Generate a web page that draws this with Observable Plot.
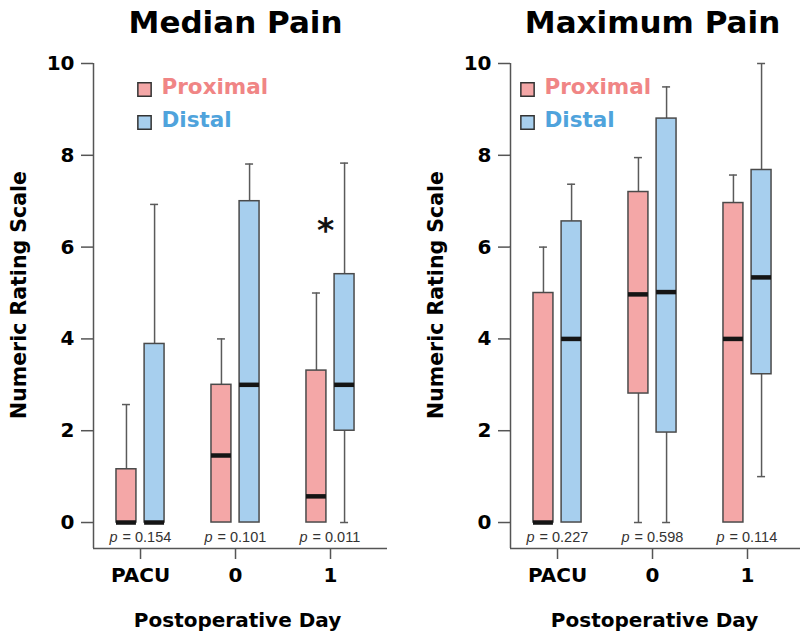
<!DOCTYPE html>
<html>
<head>
<meta charset="utf-8">
<script src="https://cdn.jsdelivr.net/npm/d3@7"></script>
<script src="https://cdn.jsdelivr.net/npm/@observablehq/plot@0.6"></script>
<style>
  html, body { margin: 0; padding: 0; background: #fff; }
  #wrap { position: relative; width: 800px; height: 635px; overflow: hidden; }
  .panel { position: absolute; top: 0; width: 400px; height: 635px; }
  .panel svg { max-width: none !important; }
</style>
</head>
<body>
<div id="wrap">
  <div class="panel" id="left" style="left:0px"></div>
  <div class="panel" id="right" style="left:417px"></div>
</div>
<script>
// ---- data ----
const days = ["PACU", "0", "1"];
const series = ["Proximal", "Distal"];
const yTicks = [0, 2, 4, 6, 8, 10];

// [min, q1, median, q3, max] per postoperative day
const medianProximal = [[0, 0, 0, 1.16, 2.57], [0, 0, 1.46, 3.0, 4.0], [0, 0, 0.57, 3.31, 5.0]];
const medianDistal   = [[0, 0, 0, 3.89, 6.93], [0, 0, 3.0, 7.0, 7.81], [0, 2.0, 3.0, 5.41, 7.83]];
const maxProximal    = [[0, 0, 0, 5.0, 6.0], [0, 2.81, 4.97, 7.2, 7.95], [0, 0, 4.0, 6.96, 7.57]];
const maxDistal      = [[0, 0, 4.0, 6.56, 7.37], [0, 1.96, 5.02, 8.8, 9.49], [1.0, 3.23, 5.34, 7.68, 10.0]];

const pMedian = ["0.154", "0.101", "0.011"];
const pMax    = ["0.227", "0.598", "0.114"];

// significance markers: day index and height
const sigMedian = [{day: 2, y: 6.35, label: "*"}];
const sigMax = [];

// ---- style ----
const boxFill = ["#F4A7A7", "#A7CFEE"];
const legendText = ["#F08585", "#4FA3DC"];
const FONT = "'DejaVu Sans', 'Liberation Sans', sans-serif";
const PFONT = "'Liberation Sans', Arial, sans-serif";
const OFF = 0.148, HW = 0.105, CAP = 0.042;
const xDomain = [-0.495, 2.6];
const yDomain = [-0.566, 10];

function panel(title, prox, dist, pvals, sig, legDx) {
  const rows = [];
  days.forEach((day, i) => {
    [[0, prox[i], -1], [1, dist[i], 1]].forEach(([k, v, side]) => {
      rows.push({i, series: series[k], cx: i + side * OFF,
        min: v[0], q1: v[1], med: v[2], q3: v[3], max: v[4]});
    });
  });
  const pData = days.map((d, i) => ({i, p: pvals[i]}));
  const mid = Math.floor(days.length / 2);
  const marks = [
    Plot.ruleX([xDomain[0]], {stroke: "#555", strokeWidth: 1.5}),
    Plot.ruleY([yDomain[0]], {stroke: "#555", strokeWidth: 1.5}),
    Plot.axisY({ticks: yTicks, tickSize: 12, tickPadding: 7, fontSize: 20, fontWeight: "bold",
      stroke: "#555", strokeWidth: 1.5, fill: "#000", label: null}),
    Plot.axisX({ticks: days.map((d, i) => i), tickFormat: i => days[i], tickSize: 11, tickPadding: 8,
      fontSize: 20, fontWeight: "bold", stroke: "#555", strokeWidth: 1.5, fill: "#000", label: null}),
    // whiskers
    Plot.ruleX(rows, {filter: d => d.max > d.q3, x: "cx", y1: "q3", y2: "max", stroke: "#5a5a5a", strokeWidth: 1.5}),
    Plot.ruleX(rows, {filter: d => d.min < d.q1, x: "cx", y1: "min", y2: "q1", stroke: "#5a5a5a", strokeWidth: 1.5}),
    Plot.ruleY(rows, {filter: d => d.max > d.q3, y: "max", x1: d => d.cx - CAP, x2: d => d.cx + CAP, stroke: "#5a5a5a", strokeWidth: 1.5}),
    Plot.ruleY(rows, {filter: d => d.min < d.q1, y: "min", x1: d => d.cx - CAP, x2: d => d.cx + CAP, stroke: "#5a5a5a", strokeWidth: 1.5}),
    // boxes
    Plot.rect(rows, {x1: d => d.cx - HW, x2: d => d.cx + HW, y1: "q1", y2: "q3", fill: "series",
      stroke: "#4a4a4a", strokeWidth: 1.5}),
    Plot.ruleY(rows, {y: "med", x1: d => d.cx - HW, x2: d => d.cx + HW, stroke: "#151515", strokeWidth: 4.5}),
    // p-values
    Plot.text(pData, {x: "i", frameAnchor: "bottom", dy: -11, dx: -23, text: () => "p", fontStyle: "italic",
      textAnchor: "end", lineAnchor: "middle", fontSize: 14.5, fontFamily: PFONT, fill: "#333"}),
    Plot.text(pData, {x: "i", frameAnchor: "bottom", dy: -11, dx: -18, text: d => "= " + d.p,
      textAnchor: "start", lineAnchor: "middle", fontSize: 14.5, fontFamily: PFONT, fill: "#333"}),
    // significance
    Plot.text(sig, {x: "day", y: "y", text: "label", dx: -5, fontSize: 33, fontWeight: "bold", fill: "#111"}),
    // title
    Plot.text([title], {x: () => mid, frameAnchor: "top", dy: -40, text: d => d, fontSize: 31,
      fontWeight: "bold", fill: "#000", lineAnchor: "middle"}),
    // axis titles
    Plot.text(["Postoperative Day"], {frameAnchor: "bottom", dy: 72, dx: -3, text: d => d, fontSize: 20,
      fontWeight: "bold", fill: "#000", lineAnchor: "middle", textAnchor: "middle"}),
    Plot.text(["Numeric Rating Scale"], {frameAnchor: "left", dx: -74, dy: -11, rotate: -90, text: d => d,
      fontSize: 20.5, fontWeight: "bold", fill: "#000", lineAnchor: "middle", textAnchor: "middle"})
  ];
  // legend
  series.forEach((s, k) => {
    marks.push(Plot.dot([s], {frameAnchor: "top-left", dx: legDx, dy: 26 + 33 * k, symbol: "square", r: 7.5,
      fill: boxFill[k], stroke: "#333", strokeWidth: 1.5}));
    marks.push(Plot.text([s], {frameAnchor: "top-left", dx: legDx + 17, dy: 24 + 33 * k, text: d => d,
      textAnchor: "start", lineAnchor: "middle", fontSize: 21.5, fontWeight: "bold", fill: legendText[k]}));
  });
  return Plot.plot({
    width: 400, height: 635,
    marginLeft: 93, marginRight: 13, marginTop: 63, marginBottom: 87,
    style: {fontFamily: FONT, background: "#fff", color: "#000"},
    x: {type: "linear", domain: xDomain, axis: null},
    y: {domain: yDomain, axis: null},
    color: {domain: series, range: boxFill},
    marks
  });
}

document.getElementById("left").append(panel("Median Pain", medianProximal, medianDistal, pMedian, sigMedian, 51));
document.getElementById("right").append(panel("Maximum Pain", maxProximal, maxDistal, pMax, sigMax, 17));
</script>
</body>
</html>
